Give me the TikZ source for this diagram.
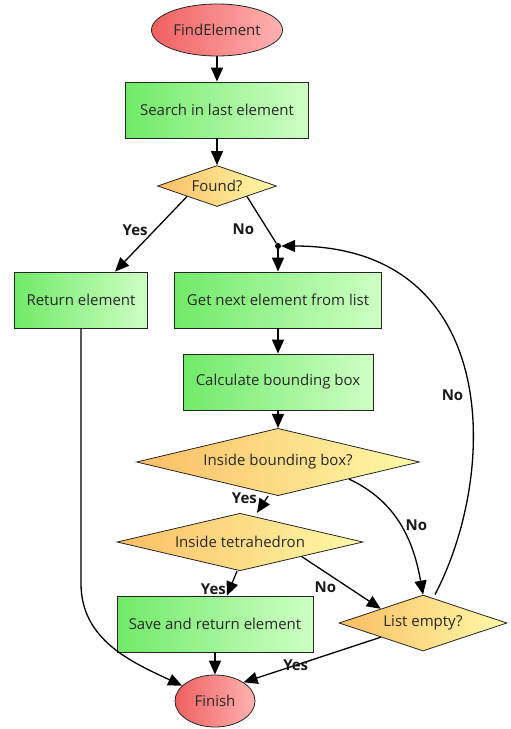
\documentclass[tikz,border=0pt]{standalone}
\usepackage{fontspec}
\setmainfont{Open Sans}
\usetikzlibrary{arrows.meta,calc,positioning,shapes.geometric}
\definecolor{termL}{RGB}{240,96,96}
\definecolor{termR}{RGB}{255,178,178}
\definecolor{procL}{RGB}{112,234,104}
\definecolor{procR}{RGB}{206,255,196}
\definecolor{decL}{RGB}{250,190,100}
\definecolor{decR}{RGB}{255,250,168}
\definecolor{textgray}{RGB}{40,40,40}

\tikzset{
  base/.style={draw=black!85, line width=0.8pt, text=textgray,
    font=\fontsize{15}{17}\selectfont, inner sep=1pt},
  term/.style={base, ellipse, left color=termL, right color=termR},
  proc/.style={base, rectangle, minimum height=56, left color=procL, right color=procR},
  dec/.style={base, diamond, aspect=3, left color=decL, right color=decR},
  junc/.style={circle, fill=black, inner sep=0pt, minimum size=6},
  arr/.style={line width=1.3pt, -{Triangle[length=14pt,width=12pt]}},
  lbl/.style={font=\fontsize{15}{17}\selectfont\bfseries, text=black!90}
}

\begin{document}
\begin{tikzpicture}[x=1pt, y=-1pt]
    \useasboundingbox (0,0) rectangle (511,729);

    % Knoten
    \node[term, minimum width=131, minimum height=52] (start) at (217,30) {FindElement};
    \node[proc, minimum width=183] (search) at (217,110) {Search in last element};
    \node[dec, minimum width=119, minimum height=41] (found) at (217,186) {Found?};
    \node[proc, minimum width=133] (ret) at (81,300) {Return element};
    \node[junc] (jn) at (278,246) {};
    \node[proc, minimum width=207] (next) at (278,300) {Get next element from list};
    \node[proc, minimum width=190] (calc) at (278,382) {Calculate bounding box};
    \node[dec, minimum width=283, minimum height=56] (inbb) at (278,462) {Inside bounding box?};
    \node[dec, minimum width=246, minimum height=50] (intet) at (240,542) {Inside tetrahedron};
    \node[proc, minimum width=196] (save) at (215,624) {Save and return element};
    \node[dec, minimum width=168, minimum height=56] (empty) at (423,623) {List empty?};
    \node[term, minimum width=80, minimum height=52] (fin) at (215,701) {Finish};

    % Verbindungen
    \draw[arr] (start) -- (search);
    \draw[arr] (search) -- (found);
    \draw[arr] (found.south west) -- ([xshift=34pt]ret.north)
        node[lbl, pos=0.45, left=3pt] {Yes};
    \draw[line width=1.3pt] (found.south east) -- (jn)
        node[lbl, pos=0.45, below left=2pt and 2pt] {No};
    \draw[arr] (jn) -- (next);
    \draw[arr] (next) -- (calc);
    \draw[arr] (calc) -- (inbb);
    \draw[arr] ([xshift=-10pt]inbb.south) -- ([xshift=17pt]intet.north)
        node[lbl, pos=0.1, left=6pt] {Yes};
    \draw[arr] (inbb.south east) to[out=-25, in=100]
        node[lbl, pos=0.5, right=1pt] {No} (empty.north);
    \draw[arr] ([xshift=-3pt]intet.south) -- ([xshift=12pt]save.north)
        node[lbl, pos=0.72, left=0pt] {Yes};
    \draw[arr] (intet.south east) -- (empty.north west)
        node[lbl, pos=0.3, below=6pt] {No};
    \draw[arr] (save) -- (fin);
    \draw[arr] (ret.south) -- ++(0,255) to[out=-90, in=155] (fin.155);
    \draw[arr] (empty.south west) -- (fin.north east)
        node[lbl, pos=0.62] {Yes};
    \draw[arr] ([xshift=12pt]empty.north) .. controls (500,470) and (500,246) .. (jn)
        node[lbl, pos=0.45, left=2pt] {No};
\end{tikzpicture}
\end{document}
